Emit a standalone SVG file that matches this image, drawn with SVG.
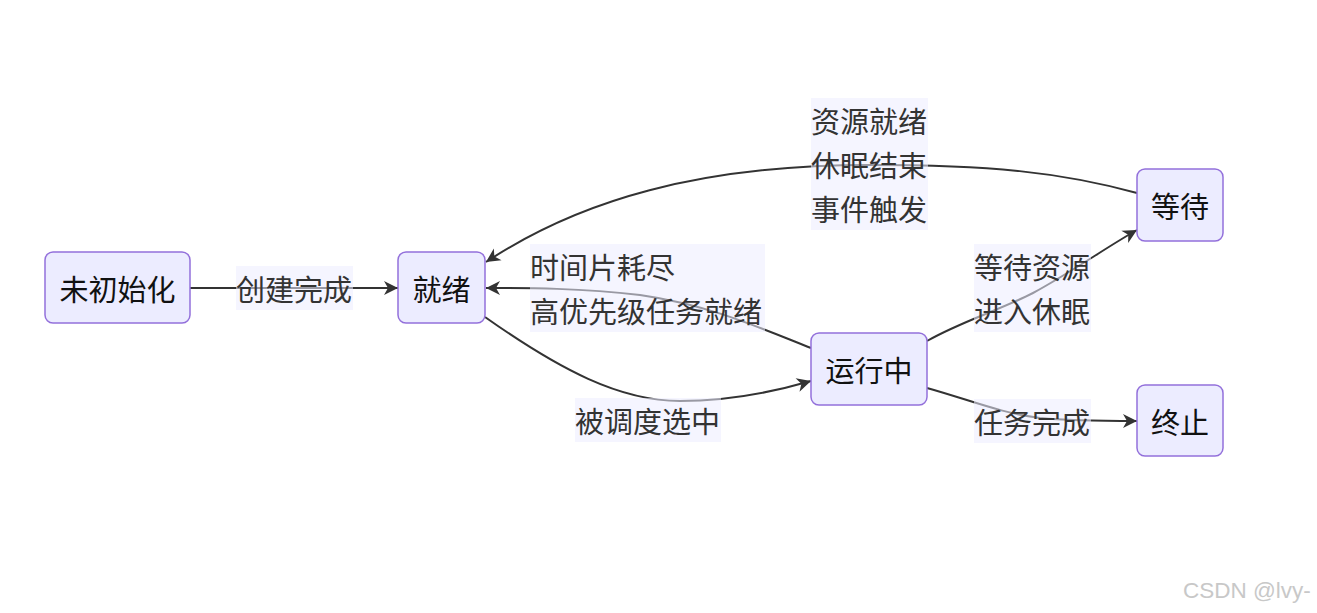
<svg xmlns="http://www.w3.org/2000/svg" width="1317" height="613" viewBox="0 0 1317 613">
<style>
.node rect{fill:#ECECFF;stroke:#9370DB;stroke-width:1.5}
.node text{font-family:"Noto Sans CJK SC","Noto Sans",sans-serif;font-size:29px;fill:#111;text-anchor:middle;dominant-baseline:central}
.edge{fill:none;stroke:#333;stroke-width:2;marker-end:url(#arrow)}
.lbl rect{fill:#ECECFF;fill-opacity:0.55}
.lbl text{font-family:"Noto Sans CJK SC","Noto Sans",sans-serif;font-size:29px;fill:#333;dominant-baseline:central}
.wm{font-family:"Liberation Sans",Arial,sans-serif;font-size:22.5px;fill:#c8c8c8}
</style>
<defs>
<marker id="arrow" markerUnits="userSpaceOnUse" markerWidth="16" markerHeight="16" viewBox="0 0 16 16" refX="15" refY="8" orient="auto">
<path d="M1,1 L15,8 L1,15 L5,8 z" fill="#333"/>
</marker>
</defs>
<rect width="1317" height="613" fill="#fff"/>
<g id="connectors">
<path class="edge" d="M190,288 L398,288"/>
<path class="edge" d="M485,317 C560,370 620,401 680,401 C730,401 780,390 811,381"/>
<path class="edge" d="M811,348 C760,328 710,305 640,295 C580,288 530,288 486,288"/>
<path class="edge" d="M1137,193 C1060,172 990,165 870,165 C700,165 580,200 486,262"/>
<path class="edge" d="M927,341 C960,322 1000,310 1033,293 C1070,273 1110,245 1137,230"/>
<path class="edge" d="M927,388 C970,400 1000,413 1040,418 C1070,421 1100,421 1137,421"/>
</g>
<g id="labels">
<g class="lbl"><rect x="236" y="266" width="117" height="44"/><text x="236" y="288">创建完成</text></g>
<g class="lbl"><rect x="575" y="398" width="146" height="44"/><text x="575" y="420">被调度选中</text></g>
<g class="lbl"><rect x="530" y="244" width="235" height="88"/><text x="530" y="266">时间片耗尽</text><text x="530" y="310">高优先级任务就绪</text></g>
<g class="lbl"><rect x="811" y="98" width="117" height="132"/><text x="811" y="120">资源就绪</text><text x="811" y="164">休眠结束</text><text x="811" y="208">事件触发</text></g>
<g class="lbl"><rect x="974" y="244" width="117" height="88"/><text x="974" y="266">等待资源</text><text x="974" y="310">进入休眠</text></g>
<g class="lbl"><rect x="974" y="399" width="117" height="44"/><text x="974" y="421">任务完成</text></g>
</g>
<g id="node-uninit" class="node"><rect x="45" y="252" width="145" height="71" rx="8"/><text x="117.5" y="288">未初始化</text></g>
<g id="node-ready" class="node"><rect x="398" y="252" width="87" height="71" rx="8"/><text x="441.5" y="288">就绪</text></g>
<g id="node-running" class="node"><rect x="811" y="333" width="116" height="72" rx="8"/><text x="869" y="369">运行中</text></g>
<g id="node-waiting" class="node"><rect x="1137" y="169" width="86" height="72" rx="8"/><text x="1180" y="205">等待</text></g>
<g id="node-terminated" class="node"><rect x="1137" y="385" width="86" height="71" rx="8"/><text x="1180" y="421">终止</text></g>
<text class="wm" x="1183" y="598">CSDN @lvy-</text>
</svg>
